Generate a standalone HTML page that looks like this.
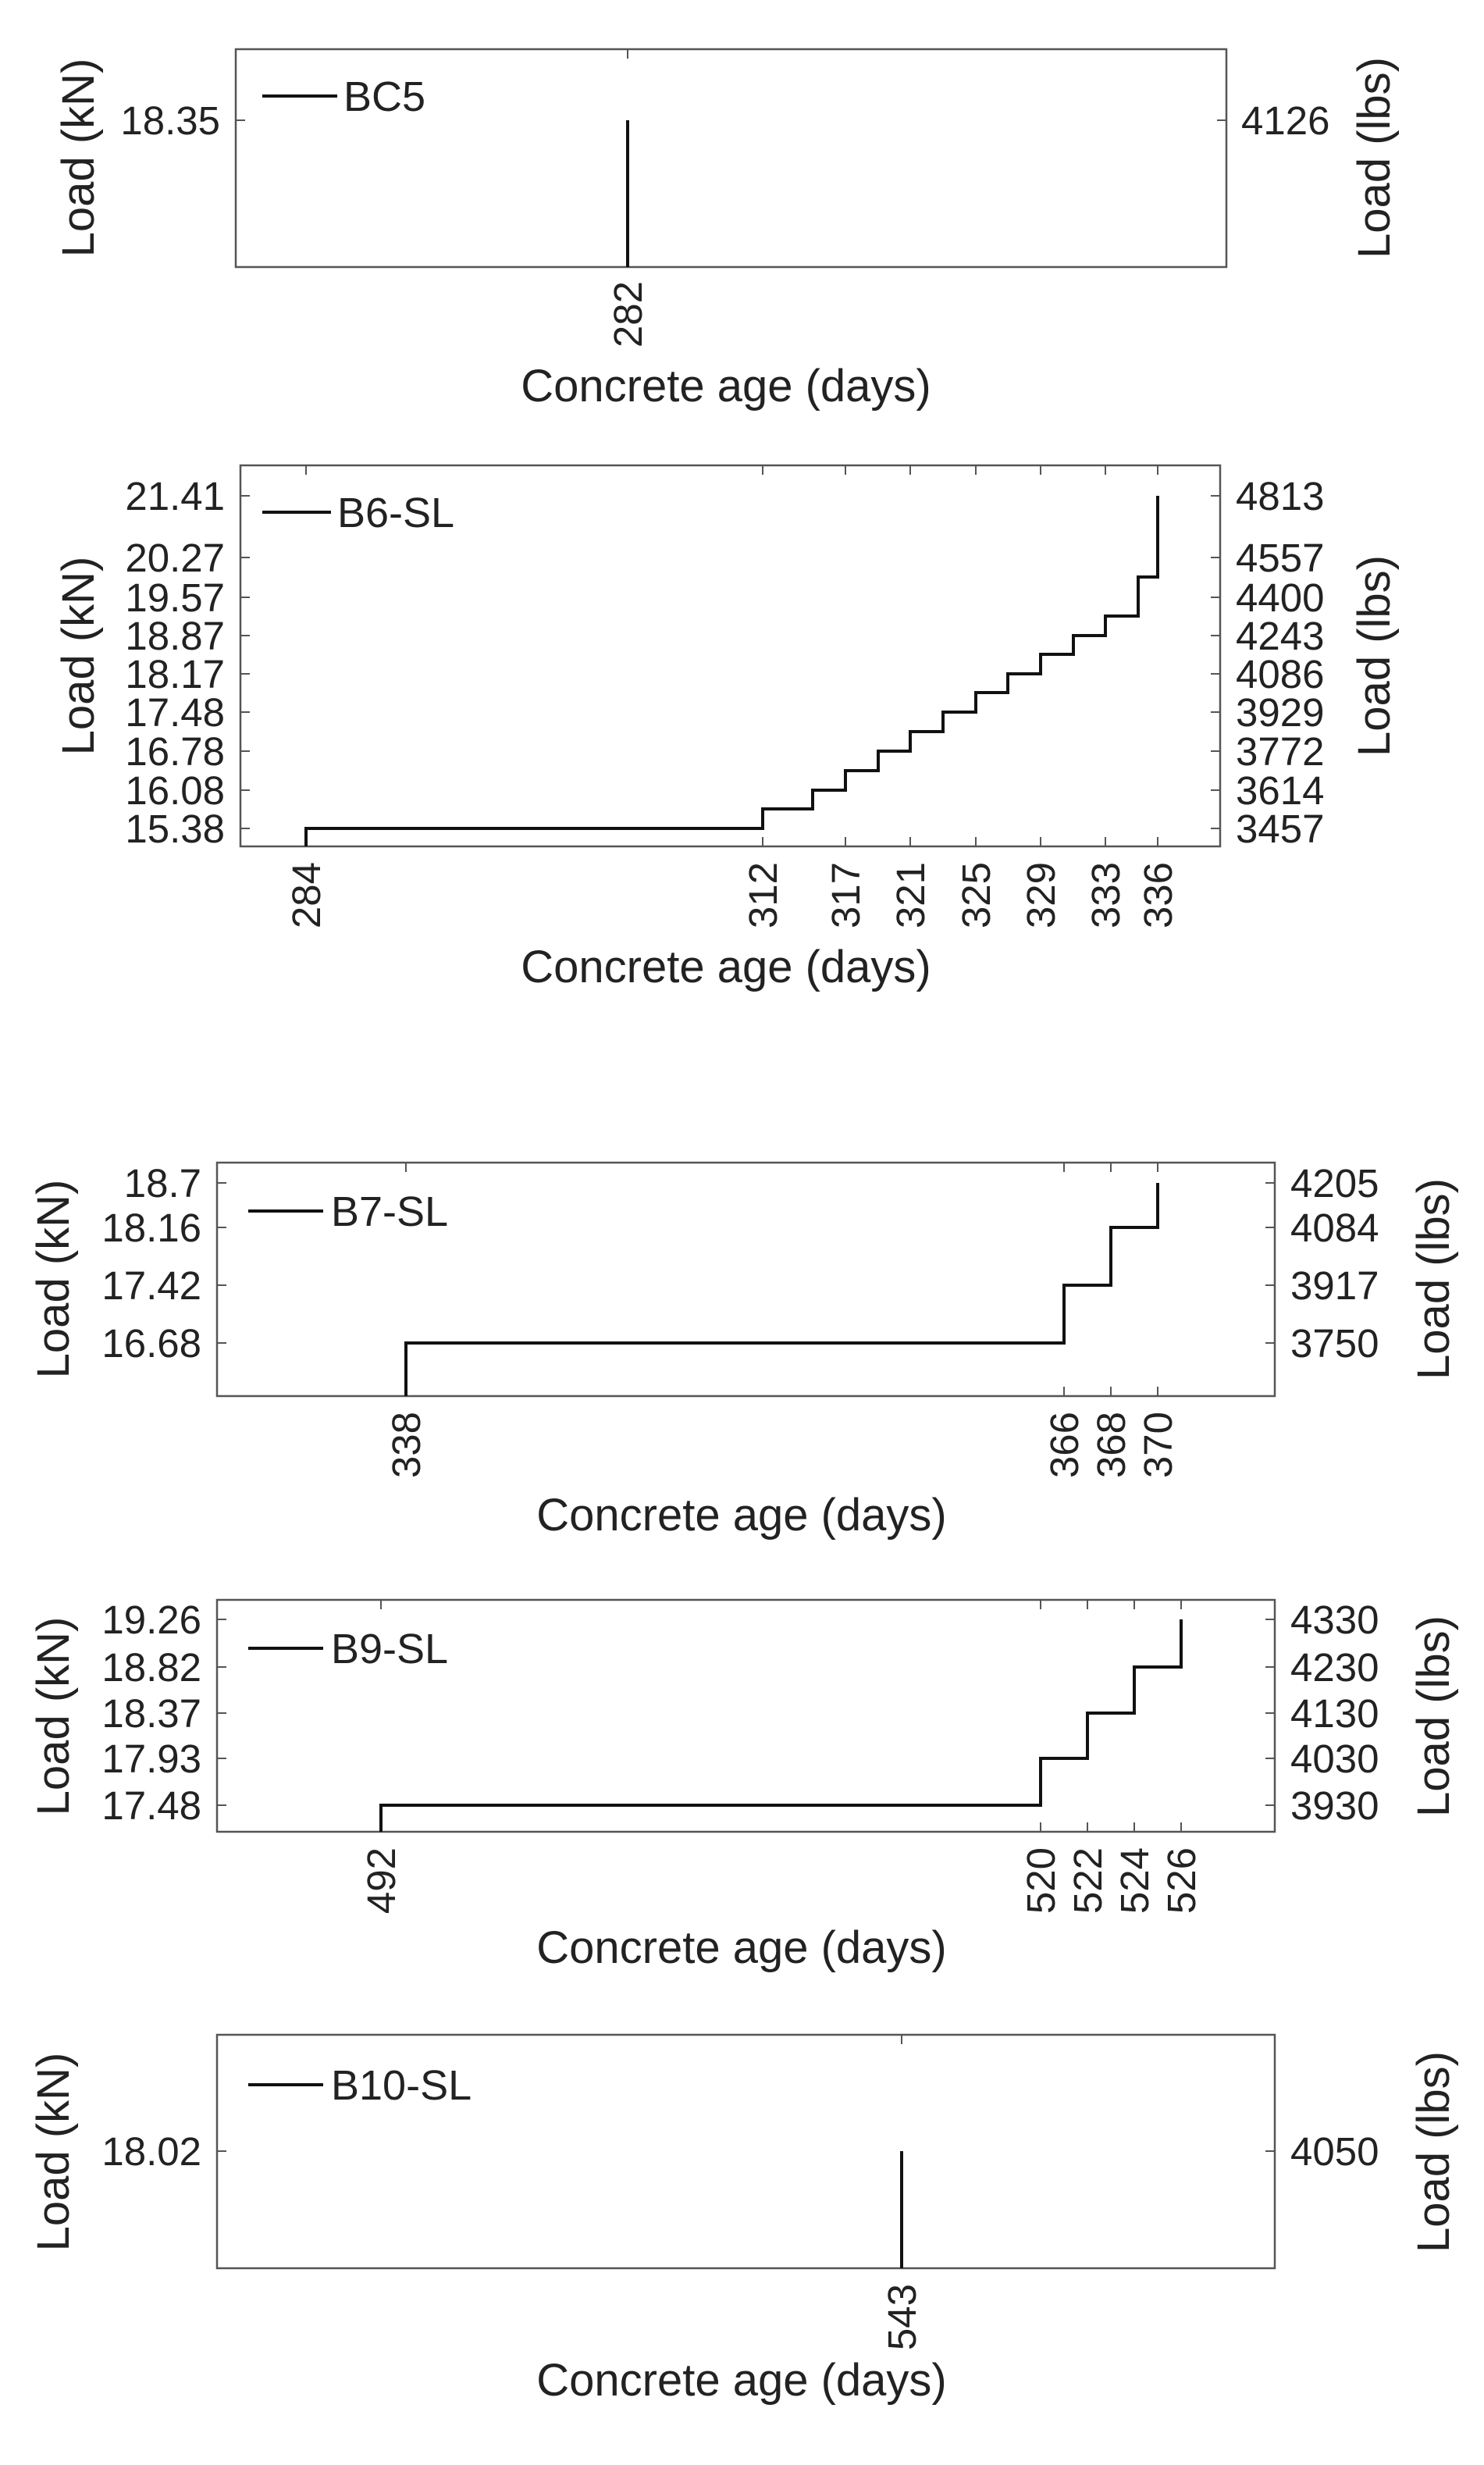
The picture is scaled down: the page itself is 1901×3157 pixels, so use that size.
<!DOCTYPE html>
<html><head><meta charset="utf-8"><style>
html,body{margin:0;padding:0;background:#fff}
svg{display:block}
text{font-family:"Liberation Sans",Arial,sans-serif;fill:#222}
.t{font-size:51px}
.lab{font-size:58px}
.leg{font-size:54px}
.ax{fill:none;stroke:#555;stroke-width:2.5}
.tk{stroke:#555;stroke-width:2}
.d{fill:none;stroke:#111;stroke-width:4}
</style></head><body>
<svg width="1901" height="3157" viewBox="0 0 1901 3157" xmlns="http://www.w3.org/2000/svg">
<!-- Panel 1 -->
<rect class="ax" x="302" y="63" width="1269" height="279"/>
<path class="tk" d="M302,154h12M1571,154h-12M804,342v-12M804,63v12"/>
<path class="d" d="M804,342V154"/>
<line class="d" x1="336" y1="123" x2="432" y2="123"/>
<text class="leg" x="440" y="142">BC5</text>
<text class="t" x="282" y="172" text-anchor="end">18.35</text>
<text class="t" x="1590" y="172">4126</text>
<text class="t" transform="translate(822,360) rotate(-90)" text-anchor="end">282</text>
<text class="lab" x="930" y="514" text-anchor="middle">Concrete age (days)</text>
<text class="lab" transform="translate(120,202) rotate(-90)" text-anchor="middle">Load (kN)</text>
<text class="lab" transform="translate(1780,202) rotate(-90)" text-anchor="middle">Load (lbs)</text>

<!-- Panel 2 -->
<rect class="ax" x="308" y="596" width="1255" height="488"/>
<path class="tk" d="M308,635h12M308,714h12M308,765h12M308,814h12M308,863h12M308,912h12M308,962h12M308,1012h12M308,1061h12
M1563,635h-12M1563,714h-12M1563,765h-12M1563,814h-12M1563,863h-12M1563,912h-12M1563,962h-12M1563,1012h-12M1563,1061h-12
M392,1084v-12M977,1084v-12M1083,1084v-12M1166,1084v-12M1250,1084v-12M1333,1084v-12M1416,1084v-12M1483,1084v-12
M392,596v12M977,596v12M1083,596v12M1166,596v12M1250,596v12M1333,596v12M1416,596v12M1483,596v12"/>
<path class="d" d="M392,1084V1061H977V1036H1041V1012H1083V987H1125V962H1166V937H1208V912H1250V887H1291V863H1333V838H1375V814H1416V789H1458V739H1483V635"/>
<line class="d" x1="336" y1="656" x2="424" y2="656"/>
<text class="leg" x="432" y="675">B6-SL</text>
<g class="t" text-anchor="end">
<text x="288" y="653">21.41</text><text x="288" y="732">20.27</text><text x="288" y="783">19.57</text>
<text x="288" y="832">18.87</text><text x="288" y="881">18.17</text><text x="288" y="930">17.48</text>
<text x="288" y="980">16.78</text><text x="288" y="1030">16.08</text><text x="288" y="1079">15.38</text>
</g>
<g class="t">
<text x="1583" y="653">4813</text><text x="1583" y="732">4557</text><text x="1583" y="783">4400</text>
<text x="1583" y="832">4243</text><text x="1583" y="881">4086</text><text x="1583" y="930">3929</text>
<text x="1583" y="980">3772</text><text x="1583" y="1030">3614</text><text x="1583" y="1079">3457</text>
</g>
<g class="t" text-anchor="end">
<text transform="translate(410,1104) rotate(-90)">284</text>
<text transform="translate(995,1104) rotate(-90)">312</text>
<text transform="translate(1101,1104) rotate(-90)">317</text>
<text transform="translate(1184,1104) rotate(-90)">321</text>
<text transform="translate(1268,1104) rotate(-90)">325</text>
<text transform="translate(1351,1104) rotate(-90)">329</text>
<text transform="translate(1434,1104) rotate(-90)">333</text>
<text transform="translate(1501,1104) rotate(-90)">336</text>
</g>
<text class="lab" x="930" y="1258" text-anchor="middle">Concrete age (days)</text>
<text class="lab" transform="translate(120,840) rotate(-90)" text-anchor="middle">Load (kN)</text>
<text class="lab" transform="translate(1780,840) rotate(-90)" text-anchor="middle">Load (lbs)</text>

<!-- Panel 3 -->
<rect class="ax" x="278" y="1489" width="1355" height="299"/>
<path class="tk" d="M278,1515h12M278,1572h12M278,1646h12M278,1720h12M1633,1515h-12M1633,1572h-12M1633,1646h-12M1633,1720h-12
M520,1788v-12M1363,1788v-12M1423,1788v-12M1483,1788v-12M520,1489v12M1363,1489v12M1423,1489v12M1483,1489v12"/>
<path class="d" d="M520,1788V1720H1363V1646H1423V1572H1483V1515"/>
<line class="d" x1="318" y1="1551" x2="414" y2="1551"/>
<text class="leg" x="424" y="1570">B7-SL</text>
<g class="t" text-anchor="end">
<text x="258" y="1533">18.7</text><text x="258" y="1590">18.16</text><text x="258" y="1664">17.42</text><text x="258" y="1738">16.68</text>
</g>
<g class="t">
<text x="1653" y="1533">4205</text><text x="1653" y="1590">4084</text><text x="1653" y="1664">3917</text><text x="1653" y="1738">3750</text>
</g>
<g class="t" text-anchor="end">
<text transform="translate(538,1808) rotate(-90)">338</text>
<text transform="translate(1381,1808) rotate(-90)">366</text>
<text transform="translate(1441,1808) rotate(-90)">368</text>
<text transform="translate(1501,1808) rotate(-90)">370</text>
</g>
<text class="lab" x="950" y="1960" text-anchor="middle">Concrete age (days)</text>
<text class="lab" transform="translate(88,1638) rotate(-90)" text-anchor="middle">Load (kN)</text>
<text class="lab" transform="translate(1856,1638) rotate(-90)" text-anchor="middle">Load (lbs)</text>

<!-- Panel 4 -->
<rect class="ax" x="278" y="2049" width="1355" height="297"/>
<path class="tk" d="M278,2074h12M278,2135h12M278,2194h12M278,2252h12M278,2312h12M1633,2074h-12M1633,2135h-12M1633,2194h-12M1633,2252h-12M1633,2312h-12
M488,2346v-12M1333,2346v-12M1393,2346v-12M1453,2346v-12M1513,2346v-12M488,2049v12M1333,2049v12M1393,2049v12M1453,2049v12M1513,2049v12"/>
<path class="d" d="M488,2346V2312H1333V2252H1393V2194H1453V2135H1513V2074"/>
<line class="d" x1="318" y1="2111" x2="414" y2="2111"/>
<text class="leg" x="424" y="2130">B9-SL</text>
<g class="t" text-anchor="end">
<text x="258" y="2092">19.26</text><text x="258" y="2153">18.82</text><text x="258" y="2212">18.37</text><text x="258" y="2270">17.93</text><text x="258" y="2330">17.48</text>
</g>
<g class="t">
<text x="1653" y="2092">4330</text><text x="1653" y="2153">4230</text><text x="1653" y="2212">4130</text><text x="1653" y="2270">4030</text><text x="1653" y="2330">3930</text>
</g>
<g class="t" text-anchor="end">
<text transform="translate(506,2366) rotate(-90)">492</text>
<text transform="translate(1351,2366) rotate(-90)">520</text>
<text transform="translate(1411,2366) rotate(-90)">522</text>
<text transform="translate(1471,2366) rotate(-90)">524</text>
<text transform="translate(1531,2366) rotate(-90)">526</text>
</g>
<text class="lab" x="950" y="2514" text-anchor="middle">Concrete age (days)</text>
<text class="lab" transform="translate(88,2198) rotate(-90)" text-anchor="middle">Load (kN)</text>
<text class="lab" transform="translate(1856,2198) rotate(-90)" text-anchor="middle">Load (lbs)</text>

<!-- Panel 5 -->
<rect class="ax" x="278" y="2606" width="1355" height="299"/>
<path class="tk" d="M278,2755h12M1633,2755h-12M1155,2905v-12M1155,2606v12"/>
<path class="d" d="M1155,2905V2755"/>
<line class="d" x1="318" y1="2670" x2="414" y2="2670"/>
<text class="leg" x="424" y="2689">B10-SL</text>
<text class="t" x="258" y="2773" text-anchor="end">18.02</text>
<text class="t" x="1653" y="2773">4050</text>
<text class="t" transform="translate(1173,2925) rotate(-90)" text-anchor="end">543</text>
<text class="lab" x="950" y="3068" text-anchor="middle">Concrete age (days)</text>
<text class="lab" transform="translate(88,2756) rotate(-90)" text-anchor="middle">Load (kN)</text>
<text class="lab" transform="translate(1856,2756) rotate(-90)" text-anchor="middle">Load (lbs)</text>
</svg>
</body></html>
